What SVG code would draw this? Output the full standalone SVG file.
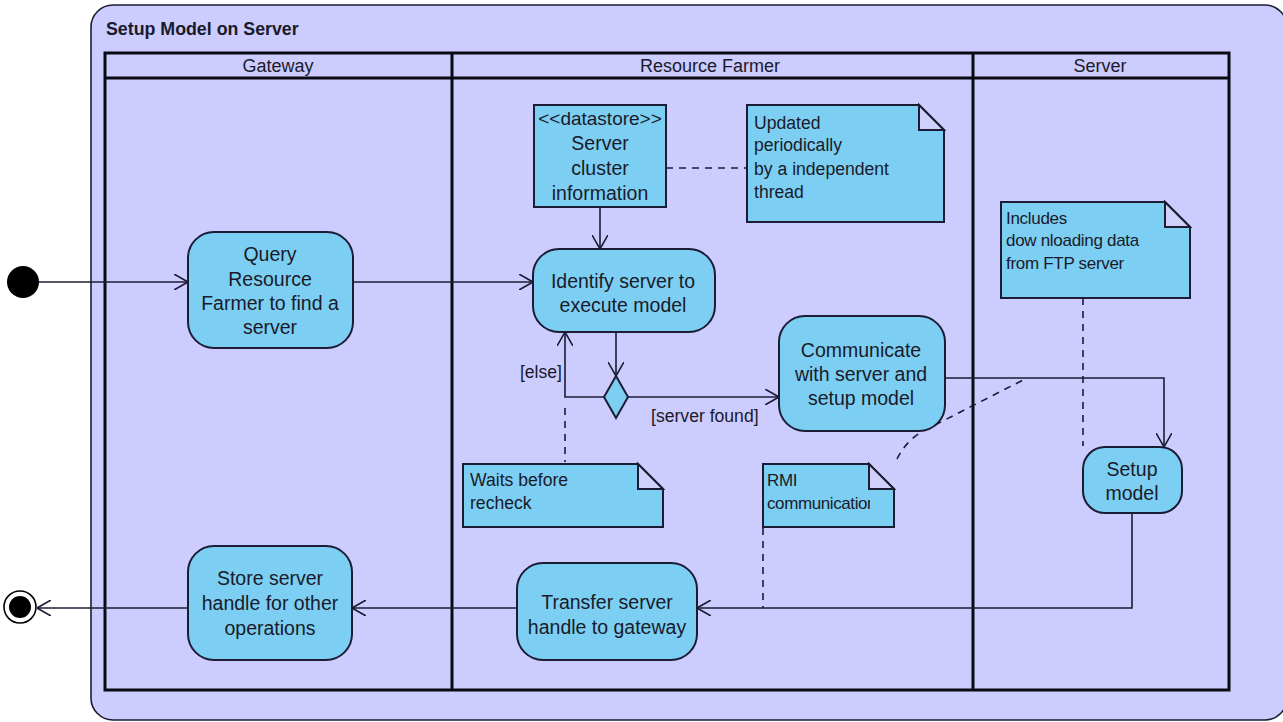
<svg xmlns="http://www.w3.org/2000/svg" width="1283" height="722" viewBox="0 0 1283 722">
<style>
text{font-family:"Liberation Sans",Arial,sans-serif;fill:#1a1a2a}
.nt{font-size:19.5px;text-anchor:middle}
.note{font-size:17.6px}
.hd{font-size:18px;text-anchor:middle}
.act{fill:#7ccff2;stroke:#1c1c34;stroke-width:2}
.nb{fill:#7ccff2;stroke:#1c1c34;stroke-width:2}
.fold{fill:#d0d0fa;stroke:#1c1c34;stroke-width:2}
.ln{fill:none;stroke:#1c1c34;stroke-width:1.6}
.dash{fill:none;stroke:#1c1c34;stroke-width:1.6;stroke-dasharray:7,6}
.lane{fill:none;stroke:#0a0a14;stroke-width:3}
</style>
<defs>
<marker id="arr" viewBox="0 0 14 16" refX="14" refY="8" markerWidth="14" markerHeight="16" markerUnits="userSpaceOnUse" orient="auto">
<path d="M0,0 L14,8 L0,16" fill="none" stroke="#1c1c34" stroke-width="1.6"/>
</marker>
<clipPath id="rmiclip"><rect x="763" y="464" width="107" height="63"/></clipPath>
</defs>
<rect x="0" y="0" width="1283" height="722" fill="#ffffff"/>
<g id="frame">
<rect x="91" y="5" width="1196" height="715" rx="22" fill="#ccccff" stroke="#1c1c34" stroke-width="1.6"/>
<text x="106" y="35" style="font-size:17.8px;font-weight:bold">Setup Model on Server</text>
</g>
<g id="lanes">
<rect class="lane" x="105" y="53" width="1124" height="637"/>
<line class="lane" x1="105" y1="78" x2="1229" y2="78" stroke-width="2.5"/>
<line class="lane" x1="452" y1="53" x2="452" y2="690" stroke-width="2.5"/>
<line class="lane" x1="973" y1="53" x2="973" y2="690" stroke-width="2.5"/>
<text class="hd" x="278" y="72">Gateway</text>
<text class="hd" x="710" y="72">Resource Farmer</text>
<text class="hd" x="1100" y="72">Server</text>
</g>
<g id="connectors">
<path class="ln" d="M39,282 L188,282" marker-end="url(#arr)"/>
<path class="ln" d="M353,282 L533,282" marker-end="url(#arr)"/>
<path class="ln" d="M600,207 L600,249" marker-end="url(#arr)"/>
<path class="ln" d="M616,332 L616,376" marker-end="url(#arr)"/>
<path class="ln" d="M604,397 L565,397 L565,332" marker-end="url(#arr)"/>
<path class="ln" d="M628,397 L779,397" marker-end="url(#arr)"/>
<path class="ln" d="M945,378 L1164,378 L1164,447" marker-end="url(#arr)"/>
<path class="ln" d="M1132,513 L1132,608 L697,608" marker-end="url(#arr)"/>
<path class="ln" d="M517,608 L352,608" marker-end="url(#arr)"/>
<path class="ln" d="M188,608 L37,608" marker-end="url(#arr)"/>
<path class="dash" d="M666,168 L747,168"/>
<path class="dash" d="M565,408 L565,462"/>
<path class="dash" d="M1083,298 L1083,446"/>
<path class="dash" d="M897,459 Q908,436 935,425 L1027,378"/>
<path class="dash" d="M763,528 L763,608"/>
<text x="562" y="378" class="note" text-anchor="end">[else]</text>
<text x="651" y="422" class="note">[server found]</text>
</g>
<g id="start"><circle cx="23" cy="282" r="16" fill="#000"/></g>
<g id="end"><circle cx="20" cy="607" r="16" fill="#fff" stroke="#000" stroke-width="1.6"/><circle cx="20" cy="607" r="11" fill="#000"/></g>
<g id="query">
<rect class="act" x="188" y="232" width="165" height="116" rx="26"/>
<text class="nt" x="270" y="261">Query</text>
<text class="nt" x="270" y="286">Resource</text>
<text class="nt" x="270" y="310">Farmer to find a</text>
<text class="nt" x="270" y="334">server</text>
</g>
<g id="datastore">
<rect class="act" x="534" y="105" width="132" height="102"/>
<text class="nt" x="600" y="125" style="font-size:19px">&lt;&lt;datastore&gt;&gt;</text>
<text class="nt" x="600" y="150">Server</text>
<text class="nt" x="600" y="175">cluster</text>
<text class="nt" x="600" y="200">information</text>
</g>
<g id="note-updated">
<path class="nb" d="M747,105 L919,105 L944,130 L944,222 L747,222 Z"/>
<path class="fold" d="M919,105 L919,130 L944,130 Z"/>
<text class="note" x="754" y="129">Updated</text>
<text class="note" x="754" y="151">periodically</text>
<text class="note" x="754" y="175">by a independent</text>
<text class="note" x="754" y="198">thread</text>
</g>
<g id="identify">
<rect class="act" x="533" y="249" width="182" height="83" rx="26"/>
<text class="nt" x="623" y="288">Identify server to</text>
<text class="nt" x="623" y="312">execute model</text>
</g>
<g id="decision">
<path class="act" d="M616,376 L628,397 L616,418 L604,397 Z"/>
</g>
<g id="communicate">
<rect class="act" x="779" y="316" width="166" height="115" rx="26"/>
<text class="nt" x="861" y="357">Communicate</text>
<text class="nt" x="861" y="381">with server and</text>
<text class="nt" x="861" y="405">setup model</text>
</g>
<g id="note-includes">
<path class="nb" d="M1001,202 L1165,202 L1190,227 L1190,298 L1001,298 Z"/>
<path class="fold" d="M1165,202 L1165,227 L1190,227 Z"/>
<text class="note" x="1006" y="224" style="font-size:17px;letter-spacing:-0.3px">Includes</text>
<text class="note" x="1006" y="246" style="font-size:17px;letter-spacing:-0.3px">dow nloading data</text>
<text class="note" x="1006" y="269" style="font-size:17px;letter-spacing:-0.3px">from FTP server</text>
</g>
<g id="setup">
<rect class="act" x="1083" y="447" width="99" height="66" rx="22"/>
<text class="nt" x="1132" y="476">Setup</text>
<text class="nt" x="1132" y="500">model</text>
</g>
<g id="note-waits">
<path class="nb" d="M463,464 L638,464 L663,489 L663,527 L463,527 Z"/>
<path class="fold" d="M638,464 L638,489 L663,489 Z"/>
<text class="note" x="470" y="486">Waits before</text>
<text class="note" x="470" y="509">recheck</text>
</g>
<g id="note-rmi">
<path class="nb" d="M763,464 L869,464 L894,489 L894,527 L763,527 Z"/>
<path class="fold" d="M869,464 L869,489 L894,489 Z"/>
<text class="note" x="767" y="486" style="font-size:17px;letter-spacing:-0.4px">RMI</text>
<text class="note" x="767" y="509" clip-path="url(#rmiclip)" style="font-size:17px;letter-spacing:-0.4px">communication</text>
</g>
<g id="transfer">
<rect class="act" x="517" y="563" width="180" height="97" rx="26"/>
<text class="nt" x="607" y="609">Transfer server</text>
<text class="nt" x="607" y="634">handle to gateway</text>
</g>
<g id="store">
<rect class="act" x="188" y="546" width="164" height="114" rx="26"/>
<text class="nt" x="270" y="585">Store server</text>
<text class="nt" x="270" y="610">handle for other</text>
<text class="nt" x="270" y="635">operations</text>
</g>
</svg>
